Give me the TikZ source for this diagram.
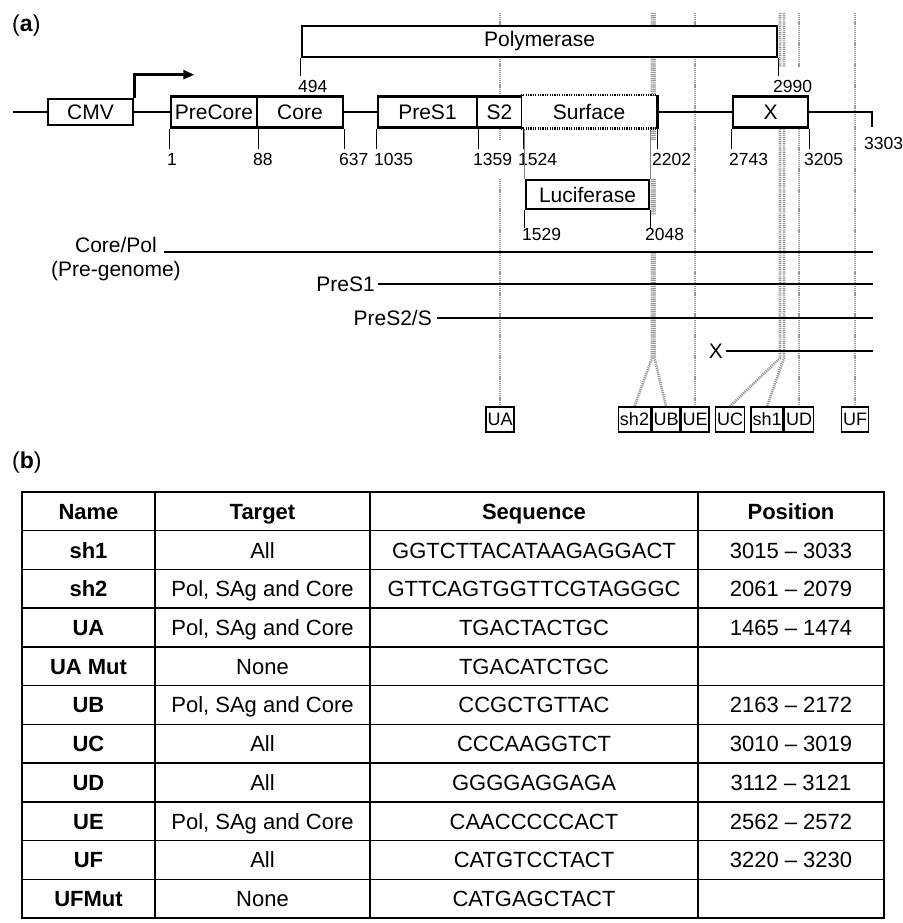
\documentclass[tikz,border=0pt]{standalone}
\usepackage{fontspec}
\setmainfont{Liberation Sans}
\usetikzlibrary{arrows.meta, positioning, backgrounds}

\newcommand{\genefont}{\fontsize{21}{25}\selectfont}
\newcommand{\numfont}{\fontsize{17.5}{20}\selectfont}
\newcommand{\probefont}{\fontsize{18}{21}\selectfont}
\newcommand{\tabfont}{\fontsize{22}{26}\selectfont}

\tikzset{
  gene/.style={draw, line width=2.6pt, fill=white, inner sep=0pt,
               minimum height=31pt, font=\genefont},
  num/.style={anchor=west, fill=white, inner xsep=1pt, inner ysep=13pt, font=\numfont},
  tick/.style={line width=1.3pt},
  backbone/.style={line width=1.2pt},
  rna/.style={line width=2.8pt},
  rnalabel/.style={anchor=east, font=\genefont, inner sep=0pt},
  probe/.style={gray!80, line width=2.6pt, dash pattern=on 1.2pt off 0.9pt},
  probebox/.style={draw, line width=1.3pt, fill=white, inner xsep=1.5pt,
                   inner ysep=0pt, minimum height=25pt, font=\probefont},
  mapline/.style={gray, line width=0.9pt},
  panel/.style={anchor=west, inner sep=0pt, font=\fontsize{23}{27}\selectfont},
  tabline/.style={line width=1.4pt},
  cell/.style={anchor=base, inner sep=0pt, font=\tabfont}
}

\begin{document}
\begin{tikzpicture}[x=1pt, y=-1pt]
  \useasboundingbox (0,0) rectangle (902,923);

  % (a) map of the construct
  \node[panel] (pa) at (12,26) {(\textbf{a})};

  % position numbers (white, so the probe lines break behind them)
  \foreach \x/\t in {171/1, 257/88, 343/637, 378/1035, 477/1359, 522/1524,
                     656/2202, 733/2743, 808/3205}
    \node[num] (n\t) at (\x-5,159) {\t};
  \node[num] (n494) at (297,86) {494};
  \node[num] (n2990) at (772,86) {2990};
  \node[num] (n3303) at (863,143) {3303};
  \node[num] (n1529) at (521,234) {1529};
  \node[num] (n2048) at (644,234) {2048};

  % genes
  \node[gene, minimum width=475pt] (pol) at (539.5,41.5) {Polymerase};
  \node[gene, minimum width=85pt, minimum height=26pt] (cmv) at (90.5,112) {CMV};
  \node[gene, minimum width=86pt] (prec) at (214,112) {PreCore};
  \node[gene, minimum width=86pt] (core) at (300,112) {Core};
  \node[gene, minimum width=99pt] (pres1) at (427.5,112) {PreS1};
  \node[gene, minimum width=45pt] (s2) at (499.5,112) {S2};
  \node[gene, draw=none, minimum width=134pt] (surf) at (589,112) {Surface};
  \node[gene, minimum width=75pt] (xgene) at (770.5,112) {X};
  \node[gene, minimum width=123pt, minimum height=29pt] (luc) at (587.5,194.5) {Luciferase};

  \draw[line width=2.6pt, dash pattern=on 1.2pt off 1.2pt]
    (surf.north west) -- (surf.north east)
    (surf.south west) -- (surf.south east);
  \draw[line width=2.6pt] (surf.north east) -- (surf.south east);

  % backbone
  \coordinate (bbstart) at (13,112);
  \coordinate (bbend) at (872,112);
  \draw[backbone] (bbstart) -- (cmv.west);
  \draw[backbone] (cmv.east) -- (prec.west);
  \draw[backbone] (core.east) -- (pres1.west);
  \draw[backbone] (surf.east) -- (xgene.west);
  \draw[backbone] (xgene.east) -- (bbend) -- ++(0,15);

  % promoter arrow
  \draw[line width=2.4pt, -{Triangle[length=11pt, width=9pt]}]
    (cmv.north east) -- ++(0,-23) -- ++(60,0);

  % ticks
  \foreach \a in {prec.south west, prec.south east, core.south east,
                  pres1.south west, pres1.south east, s2.south east,
                  surf.south east, xgene.south west, xgene.south east}
    \draw[tick] (\a) -- ++(0,20);
  \foreach \a in {pol.south west, pol.south east, luc.south west, luc.south east}
    \draw[tick] (\a) -- ++(0,18);

  \draw[mapline] (luc.north west |- surf.south) -- (luc.north west);
  \draw[mapline] (luc.north east |- surf.south) -- (luc.north east);

  % transcripts
  \coordinate (rnaend) at (873,0);
  \node[rnalabel, anchor=base east] (corepol) at (157,252) {Core/Pol};
  \node[font=\genefont, inner sep=0pt, below=9pt of corepol] (pregen) {(Pre-genome)};
  \node[rnalabel] (lpres1) at (375,284) {PreS1};
  \node[rnalabel] (lpres2) at (432,318) {PreS2/S};
  \node[rnalabel] (lx) at (723,351) {X};
  \draw[rna] ([xshift=7pt]corepol.base east) -- (corepol.base east -| rnaend);
  \draw[rna] ([xshift=3pt]lpres1.east) -- (lpres1.east -| rnaend);
  \draw[rna] ([xshift=5pt]lpres2.east) -- (lpres2.east -| rnaend);
  \draw[rna] ([xshift=3pt]lx.east) -- (lx.east -| rnaend);

  % shRNA target boxes
  \node[probebox] (ua) at (500,419.5) {UA};
  \node[probebox] (sh2) at (634.5,419.5) {sh2};
  \node[probebox] (ub) at (666,419.5) {UB};
  \node[probebox] (ue) at (695,419.5) {UE};
  \node[probebox] (uc) at (730,419.5) {UC};
  \node[probebox] (sh1) at (767,419.5) {sh1};
  \node[probebox] (ud) at (799,419.5) {UD};
  \node[probebox] (uf) at (855,419.5) {UF};

  \begin{pgfonlayer}{background}
    \coordinate (probetop) at (0,13);
    \foreach \p in {ua, ue, ud, uf}
      \draw[probe] (\p.north |- probetop) -- (\p.north);
    \coordinate (sh2split) at (652,358);
    \coordinate (ubsplit) at (654.5,358);
    \coordinate (ucsplit) at (780,358);
    \coordinate (sh1split) at (784,358);
    \draw[probe] (sh2split |- probetop) -- (sh2split) -- (sh2.north);
    \draw[probe] (ubsplit |- probetop) -- (ubsplit) -- (ub.north);
    \draw[probe] (ucsplit |- probetop) -- (ucsplit) -- (uc.north);
    \draw[probe] (sh1split |- probetop) -- (sh1split) -- (sh1.north);
  \end{pgfonlayer}

  % (b) table of target sequences
  \node[panel] (pb) at (12,463) {(\textbf{b})};
  \draw[tabline] (22,492) rectangle (884,918);
  \foreach \x in {155,370,698}
    \draw[tabline] (\x,492) -- (\x,918);
  \foreach \r in {1,...,10}
    \draw[tabline] (22,492+38.73*\r) -- (884,492+38.73*\r);

  \node[cell, font=\tabfont\bfseries] (hname) at (88.5,519.3) {Name};
  \node[cell, font=\tabfont\bfseries] (htarget) at (262.5,519.3) {Target};
  \node[cell, font=\tabfont\bfseries] (hseq) at (534,519.3) {Sequence};
  \node[cell, font=\tabfont\bfseries] (hpos) at (791,519.3) {Position};
  \foreach \nm/\tg/\sq/\ps [count=\r] in {
      sh1/All/GGTCTTACATAAGAGGACT/3015 -- 3033,
      sh2/{Pol, SAg and Core}/GTTCAGTGGTTCGTAGGGC/2061 -- 2079,
      UA/{Pol, SAg and Core}/TGACTACTGC/1465 -- 1474,
      UA Mut/None/TGACATCTGC/{},
      UB/{Pol, SAg and Core}/CCGCTGTTAC/2163 -- 2172,
      UC/All/CCCAAGGTCT/3010 -- 3019,
      UD/All/GGGGAGGAGA/3112 -- 3121,
      UE/{Pol, SAg and Core}/CAACCCCCACT/2562 -- 2572,
      UF/All/CATGTCCTACT/3220 -- 3230,
      UFMut/None/CATGAGCTACT/{}} {
    \node[cell, font=\tabfont\bfseries] (name\r) at (88.5,519.3+38.73*\r) {\nm};
    \node[cell] (target\r) at (262.5,519.3+38.73*\r) {\tg};
    \node[cell] (seq\r) at (534,519.3+38.73*\r) {\sq};
    \node[cell] (pos\r) at (791,519.3+38.73*\r) {\ps};
  }
\end{tikzpicture}
\end{document}
